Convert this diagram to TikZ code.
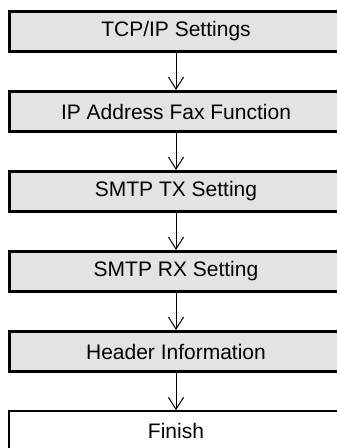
\documentclass[tikz,border=0pt]{standalone}
\usepackage{fontspec}
\setmainfont{Liberation Sans}
\usetikzlibrary{arrows.meta}
\definecolor{boxgray}{HTML}{E3E3E3}
\begin{document}
\begin{tikzpicture}[x=1pt,y=1pt,
  stepbox/.style={draw=black,line width=3pt,fill=boxgray,rectangle,
    minimum width=333pt,minimum height=40pt,inner sep=0pt,
    font=\fontsize{21}{25}\selectfont},
  endbox/.style={draw=black,line width=1.5pt,fill=white,rectangle,
    minimum width=334pt,minimum height=40pt,inner sep=0pt,
    font=\fontsize{21}{25}\selectfont},
  flow/.style={draw=black,line width=1pt,
    -{Straight Barb[length=12pt,width=15pt,line width=1pt]}}]
\useasboundingbox (0,0) rectangle (337,-448);
\clip (0,0) rectangle (337,-448);
\fill[white] (0,0) rectangle (337,-448);
\node[stepbox] (s1) at (176,-31.5) {TCP/IP Settings};
\node[stepbox] (s2) at (176,-111.5) {IP Address Fax Function};
\node[stepbox] (s3) at (176,-191.5) {SMTP TX Setting};
\node[stepbox] (s4) at (176,-271.5) {SMTP RX Setting};
\node[stepbox] (s5) at (176,-351.5) {Header Information};
\node[endbox] (s6) at (176,-431) {Finish};
\draw[flow] (s1) -- (s2);
\draw[flow] (s2) -- (s3);
\draw[flow] (s3) -- (s4);
\draw[flow] (s4) -- (s5);
\draw[flow] (s5) -- (s6);
\end{tikzpicture}
\end{document}
